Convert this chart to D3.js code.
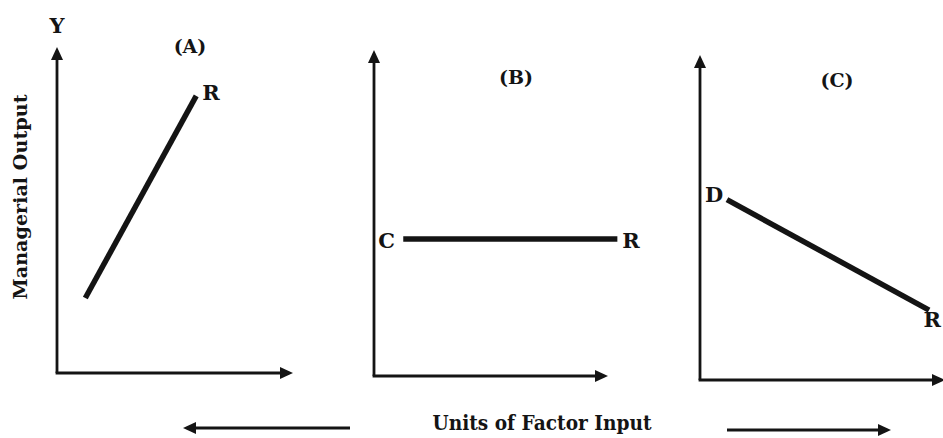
<!DOCTYPE html>
<html>
<head>
<meta charset="utf-8">
<script src="https://cdn.jsdelivr.net/npm/d3@7"></script>
<style>
  html, body { margin: 0; padding: 0; background: #ffffff; }
  svg { display: block; }
  text { font-family: "DejaVu Serif", "Liberation Serif", serif; font-weight: bold; fill: #141414; }
</style>
</head>
<body>
<svg id="chart" width="943" height="438"></svg>
<script>
// Three panels: managerial output vs. units of factor input
const panelTitles = ["(A)", "(B)", "(C)"];
const startLabels = ["", "C", "D"];
const endLabels = ["R", "R", "R"];
// Line segment endpoints on a 0–10 scale for each panel
const startX = [1.2, 1.25, 1.1];
const startY = [2.3, 4.2, 5.55];
const endX = [5.9, 10.4, 9.35];
const endY = [8.5, 4.2, 2.15];
const yAxisTitle = "Managerial Output";
const yAxisLetter = "Y";
const xAxisTitle = "Units of Factor Input";

const svg = d3.select("#chart");
const ink = "#141414";

// Pixel frames of each panel (axis origin and arrow tips)
const frames = [
  { left: 57, right: 293, bottom: 373, top: 47 },
  { left: 374, right: 608, bottom: 376, top: 50 },
  { left: 700, right: 945, bottom: 380, top: 55 }
];
const titlePos = [[190, 53], [516, 84], [837, 87]];
const endOffset = [[6, 4], [5, 9], [12, 17]];
const endAnchor = ["start", "start", "end"];
const startOffset = [[0, 0], [-25, 9], [-22, 2]];

function arrowHead(g, x, y, dir, len = 13, half = 6) {
  let pts;
  if (dir === "up") pts = [[x, y], [x - half, y + len], [x + half, y + len]];
  else if (dir === "right") pts = [[x, y], [x - len, y - half], [x - len, y + half]];
  else pts = [[x, y], [x + len, y - half], [x + len, y + half]];
  g.append("path").attr("d", d3.line()(pts) + "Z").attr("fill", ink);
}

frames.forEach((f, i) => {
  const x = d3.scaleLinear().domain([0, 10]).range([f.left, f.right]);
  const y = d3.scaleLinear().domain([0, 10]).range([f.bottom, f.top]);
  const g = svg.append("g");

  // axes
  g.append("line").attr("x1", x(0)).attr("y1", y(0)).attr("x2", x(0)).attr("y2", y(10) + 8)
    .attr("stroke", ink).attr("stroke-width", 2.8);
  g.append("line").attr("x1", x(0) - 1.4).attr("y1", y(0)).attr("x2", x(10) - 8).attr("y2", y(0))
    .attr("stroke", ink).attr("stroke-width", 2.8);
  arrowHead(g, x(0), y(10), "up");
  arrowHead(g, x(10), y(0), "right");

  // the curve segment
  g.append("line")
    .attr("x1", x(startX[i])).attr("y1", y(startY[i]))
    .attr("x2", x(endX[i])).attr("y2", y(endY[i]))
    .attr("stroke", ink).attr("stroke-width", 5.5);

  // panel title
  g.append("text").attr("x", titlePos[i][0]).attr("y", titlePos[i][1])
    .attr("text-anchor", "middle").attr("font-size", 19).text(panelTitles[i]);

  // endpoint labels
  g.append("text").attr("x", x(endX[i]) + endOffset[i][0]).attr("y", y(endY[i]) + endOffset[i][1])
    .attr("text-anchor", endAnchor[i]).attr("font-size", 21).text(endLabels[i]);
  if (startLabels[i]) {
    g.append("text").attr("x", x(startX[i]) + startOffset[i][0]).attr("y", y(startY[i]) + startOffset[i][1])
      .attr("font-size", 21).text(startLabels[i]);
  }
});

// y-axis letter and title
svg.append("text").attr("x", 57).attr("y", 33).attr("text-anchor", "middle")
  .attr("font-size", 21).text(yAxisLetter);
svg.append("text")
  .attr("transform", "translate(27,197) rotate(-90)")
  .attr("text-anchor", "middle").attr("font-size", 19)
  .attr("textLength", 205).attr("lengthAdjust", "spacingAndGlyphs")
  .text(yAxisTitle);

// x-axis title with direction arrows
svg.append("text").attr("x", 542).attr("y", 430).attr("text-anchor", "middle")
  .attr("font-size", 20).attr("textLength", 219).attr("lengthAdjust", "spacingAndGlyphs")
  .text(xAxisTitle);
const ga = svg.append("g");
ga.append("line").attr("x1", 350).attr("y1", 428).attr("x2", 192).attr("y2", 428)
  .attr("stroke", ink).attr("stroke-width", 2.8);
arrowHead(ga, 183, 428, "left");
ga.append("line").attr("x1", 727).attr("y1", 430).attr("x2", 882).attr("y2", 430)
  .attr("stroke", ink).attr("stroke-width", 2.8);
arrowHead(ga, 891, 430, "right");
</script>
</body>
</html>
